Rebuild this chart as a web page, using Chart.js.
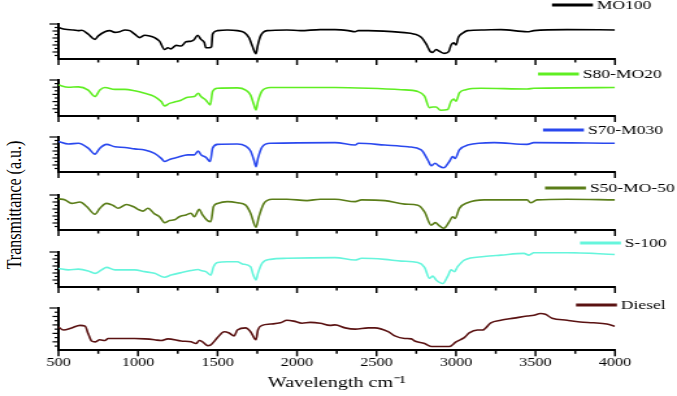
<!DOCTYPE html>
<html>
<head>
<meta charset="utf-8">
<script src="https://cdn.jsdelivr.net/npm/chart.js@4.4.0/dist/chart.umd.min.js"></script>
<style>
html,body{margin:0;padding:0;background:#fff;}
#fig{position:relative;width:677px;height:396px;overflow:hidden;background:#fff;}
#fig canvas{position:absolute;left:0;top:0;}
#ytitle{position:absolute;left:14px;top:205px;transform:translate(-50%,-50%) rotate(-90deg) scale(1,1.3);
  font:16px "Liberation Serif";white-space:nowrap;color:#000;}
</style>
</head>
<body>
<div id="fig"><div id="ytitle">Transmittance (a.u.)</div></div>
<script>
// ---------------- data (wavenumber cm-1, relative transmittance 0..1 within each panel) ----------------
const seriesNames = ['MO100', 'S80-MO20', 'S70-M030', 'S50-MO-50', 'S-100', 'Diesel'];
const xTicks = [500, 1000, 1500, 2000, 2500, 3000, 3500, 4000];
const xTitle = 'Wavelength cm\u207B\u00B9';
const yTitle = 'Transmittance (a.u.)';

const mo100 = [[500,.90],[542,.85],[594,.83],[625,.81],[646,.82],[687,.71],[729,.56],[750,.66],[792,.78],[823,.81],
  [854,.76],[885,.78],[917,.83],[948,.81],[979,.71],[1010,.61],[1042,.68],[1073,.66],[1104,.61],[1135,.51],
  [1167,.27],[1187,.32],[1208,.29],[1240,.39],[1271,.37],[1302,.49],[1333,.51],[1354,.56],[1375,.68],[1396,.56],
  [1417,.47],[1427,.32],[1448,.32],[1462,.35],[1469,.71],[1500,.81],[1562,.83],[1625,.81],[1667,.76],[1698,.61],
  [1719,.37],[1742,.15],[1752,.37],[1771,.66],[1812,.81],[1937,.83],[2021,.81],[2146,.84],[2240,.84],[2323,.81],
  [2365,.78],[2385,.81],[2448,.81],[2656,.76],[2740,.71],[2781,.62],[2812,.43],[2839,.21],[2854,.19],[2875,.27],
  [2896,.22],[2927,.16],[2954,.21],[2969,.40],[2985,.46],[3000,.40],[3015,.62],[3042,.74],[3073,.81],[3177,.83],
  [3281,.84],[3448,.78],[3490,.81],[3698,.84],[4000,.83]];

const s80mo20 = [[500,.86],[562,.80],[625,.81],[687,.72],[729,.54],[760,.72],[792,.79],[854,.74],[917,.74],[979,.70],
  [1042,.63],[1104,.54],[1146,.40],[1167,.28],[1198,.35],[1240,.40],[1271,.44],[1312,.52],[1354,.54],[1379,.63],
  [1396,.54],[1427,.44],[1454,.31],[1469,.68],[1500,.77],[1625,.78],[1677,.72],[1708,.58],[1729,.31],[1742,.17],
  [1754,.40],[1781,.70],[1833,.79],[2240,.79],[2448,.77],[2656,.73],[2760,.68],[2802,.55],[2833,.23],[2854,.25],
  [2875,.25],[2902,.16],[2948,.18],[2969,.41],[2985,.47],[3000,.41],[3021,.64],[3062,.73],[3156,.77],[3448,.75],
  [3490,.77],[4000,.79]];

const s70mo30 = [[500,.87],[562,.80],[625,.82],[687,.68],[729,.51],[760,.68],[802,.79],[854,.72],[917,.70],[979,.66],
  [1042,.63],[1104,.53],[1146,.39],[1167,.30],[1198,.36],[1250,.42],[1312,.49],[1354,.49],[1379,.60],[1396,.49],
  [1427,.42],[1454,.30],[1469,.68],[1500,.79],[1625,.80],[1677,.74],[1708,.60],[1729,.34],[1742,.15],[1754,.39],
  [1781,.72],[1833,.82],[2240,.84],[2365,.77],[2385,.82],[2552,.77],[2698,.72],[2781,.63],[2823,.34],[2844,.18],
  [2869,.25],[2890,.18],[2923,.12],[2958,.30],[2979,.44],[2994,.39],[3021,.63],[3073,.77],[3240,.84],[3448,.79],
  [3490,.84],[4000,.82]];

const s50mo50 = [[500,.89],[542,.86],[583,.76],[635,.80],[677,.67],[729,.45],[760,.62],[802,.76],[844,.70],[875,.62],
  [927,.73],[969,.67],[1000,.59],[1031,.54],[1062,.62],[1104,.46],[1135,.38],[1167,.21],[1198,.27],[1229,.29],
  [1260,.38],[1302,.43],[1333,.48],[1354,.38],[1385,.59],[1406,.43],[1437,.27],[1458,.24],[1475,.67],[1500,.76],
  [1562,.81],[1625,.78],[1677,.71],[1708,.48],[1742,.08],[1760,.38],[1792,.76],[1844,.88],[1937,.88],[2062,.84],
  [2146,.88],[2240,.88],[2365,.81],[2406,.86],[2552,.84],[2677,.74],[2760,.71],[2802,.52],[2844,.14],[2871,.21],
  [2890,.14],[2923,.05],[2958,.24],[2979,.38],[2994,.33],[3021,.62],[3073,.78],[3177,.86],[3448,.86],[3469,.78],
  [3510,.86],[3698,.88],[4000,.86]];

const s100 = [[500,.53],[562,.49],[625,.51],[687,.46],[729,.39],[771,.49],[802,.56],[854,.49],[917,.49],[979,.49],
  [1042,.44],[1104,.39],[1167,.28],[1208,.34],[1271,.41],[1333,.47],[1379,.50],[1396,.47],[1427,.44],[1458,.34],
  [1475,.58],[1500,.70],[1562,.72],[1625,.72],[1656,.66],[1708,.58],[1725,.34],[1742,.20],[1754,.39],[1781,.68],
  [1833,.79],[1937,.82],[2240,.84],[2365,.77],[2406,.82],[2552,.79],[2656,.74],[2760,.70],[2802,.56],[2833,.25],
  [2854,.31],[2875,.20],[2917,.10],[2948,.31],[2969,.49],[2990,.44],[3010,.58],[3052,.77],[3177,.87],[3281,.91],
  [3427,.96],[3458,.91],[3490,.98],[3698,.98],[4000,.93]];

const diesel = [[500,.55],[531,.48],[583,.53],[635,.59],[667,.57],[687,.39],[708,.22],[729,.20],[760,.25],[792,.23],
  [812,.28],[844,.28],[917,.28],[979,.28],[1042,.27],[1104,.25],[1146,.23],[1187,.27],[1271,.22],[1333,.20],
  [1365,.16],[1385,.23],[1406,.20],[1437,.11],[1458,.13],[1500,.30],[1542,.44],[1573,.41],[1604,.34],[1625,.48],
  [1677,.53],[1708,.44],[1742,.25],[1754,.48],[1781,.59],[1833,.62],[1896,.65],[1937,.71],[1979,.69],[2031,.64],
  [2083,.66],[2146,.64],[2208,.59],[2240,.60],[2302,.53],[2365,.50],[2448,.53],[2490,.53],[2573,.44],[2615,.34],
  [2677,.28],[2719,.27],[2740,.22],[2802,.16],[2844,.09],[2906,.09],[2958,.09],[3000,.20],[3052,.30],[3083,.41],
  [3135,.48],[3167,.48],[3219,.65],[3281,.71],[3365,.76],[3448,.81],[3490,.83],[3531,.87],[3562,.85],[3604,.76],
  [3698,.71],[3781,.67],[3865,.65],[3948,.62],[4000,.57]];

const seriesData = [mo100, s80mo20, s70mo30, s50mo50, s100, diesel];

// ---------------- styles & layout ----------------
const colors = ['#000000', '#5fee22', '#2a48ee', '#5a7d18', '#66f5dc', '#5a1212'];
const STRETCH = 677 / 521;          // figure is horizontally stretched like the original
const LW = 521, LH = 396;           // logical canvas size
const panelTop  = [24, 80, 137, 195, 252, 308];
const panelAxis = [59, 116, 172, 230, 287, 344];
const legendX   = [552, 538, 543, 545, 580, 576];   // screen px
const legendY   = [5, 74, 130, 188, 243, 305];
const plotLeft = 58.5, plotRight = 615;
const serif = '"Liberation Serif", "Times New Roman", serif';

Chart.defaults.font.family = serif;
Chart.defaults.color = '#000';

const axisMarks = {
  id: 'axisMarks',
  afterDraw(chart) {
    const {ctx, chartArea: a, scales: {x, y}} = chart;
    ctx.save();
    ctx.strokeStyle = '#000';
    ctx.lineWidth = 1.5;
    const all = [];
    xTicks.forEach((v, i) => { all.push([v, true]); if (i < xTicks.length - 1) all.push([(v + xTicks[i + 1]) / 2, false]); });
    all.forEach(([v, major]) => {
      const px = x.getPixelForValue(v);
      ctx.beginPath(); ctx.moveTo(px, a.bottom); ctx.lineTo(px, a.bottom + (major ? 6 : 3.5)); ctx.stroke();
    });
    ctx.lineWidth = 1.2;
    const n = 10;
    for (let i = 1; i <= n; i++) {
      const py = y.getPixelForValue(y.min + (y.max - y.min) * i / n);
      const len = i === n ? 7 : (i % 2 === 0 ? 4.6 : 3);
      ctx.beginPath(); ctx.moveTo(a.left - len, py); ctx.lineTo(a.left, py); ctx.stroke();
    }
    ctx.restore();
  }
};

const panelLegend = {
  id: 'panelLegend',
  afterDraw(chart, args, opts) {
    const ds = chart.data.datasets[0];
    const ctx = chart.ctx;
    ctx.save();
    ctx.strokeStyle = ds.borderColor;
    ctx.lineWidth = 3;
    ctx.beginPath(); ctx.moveTo(opts.x, opts.y); ctx.lineTo(opts.x + opts.len, opts.y); ctx.stroke();
    ctx.fillStyle = '#000';
    ctx.font = '13.5px ' + serif;
    ctx.textBaseline = 'middle';
    ctx.textAlign = 'left';
    ctx.fillText(ds.label, opts.x + opts.len + 3, opts.y + 0.5);
    ctx.restore();
  }
};

const fig = document.getElementById('fig');
seriesData.forEach((pairs, i) => {
  const cv = document.createElement('canvas');
  cv.width = LW; cv.height = LH;
  cv.style.width = '677px'; cv.style.height = '396px';
  fig.appendChild(cv);
  const isLast = i === seriesData.length - 1;
  const bottomPad = isLast ? (LH - panelAxis[i] - (5 + 12.5 * 1.2 + 10 + 15.5 * 1.2)) : (LH - panelAxis[i]);
  new Chart(cv, {
    type: 'line',
    data: {
      datasets: [{
        label: seriesNames[i],
        data: pairs.map(p => ({x: p[0], y: p[1]})),
        borderColor: colors[i],
        backgroundColor: colors[i],
        borderWidth: 1.6,
        pointRadius: 0,
        fill: false,
        cubicInterpolationMode: 'monotone'
      }]
    },
    options: {
      responsive: false,
      animation: false,
      devicePixelRatio: 1,
      events: [],
      layout: {padding: {left: plotLeft / STRETCH, right: LW - plotRight / STRETCH, top: panelTop[i], bottom: bottomPad}},
      plugins: {
        legend: {display: false},
        tooltip: {enabled: false},
        panelLegend: {x: legendX[i] / STRETCH, y: legendY[i], len: 31.5}
      },
      scales: {
        x: {
          type: 'linear', min: xTicks[0], max: xTicks[xTicks.length - 1],
          afterBuildTicks: s => { s.ticks = xTicks.map(v => ({value: v})); },
          grid: {display: false, drawTicks: false},
          border: {display: true, color: '#000', width: 2},
          ticks: {display: isLast, padding: 5, maxRotation: 0, autoSkip: false, color: '#000',
                  font: {family: serif, size: 12.5, lineHeight: 1.2}, callback: v => String(v)},
          title: {display: isLast, text: xTitle, color: '#000',
                  font: {family: serif, size: 15.5, lineHeight: 1.2}, padding: {top: 10, bottom: 0}}
        },
        y: {
          type: 'linear', min: 0, max: 1,
          grid: {display: false, drawTicks: false},
          border: {display: true, color: '#000', width: 2},
          ticks: {display: false}
        }
      }
    },
    plugins: [axisMarks, panelLegend]
  });
});
document.getElementById('ytitle').textContent = yTitle;
</script>
</body>
</html>
